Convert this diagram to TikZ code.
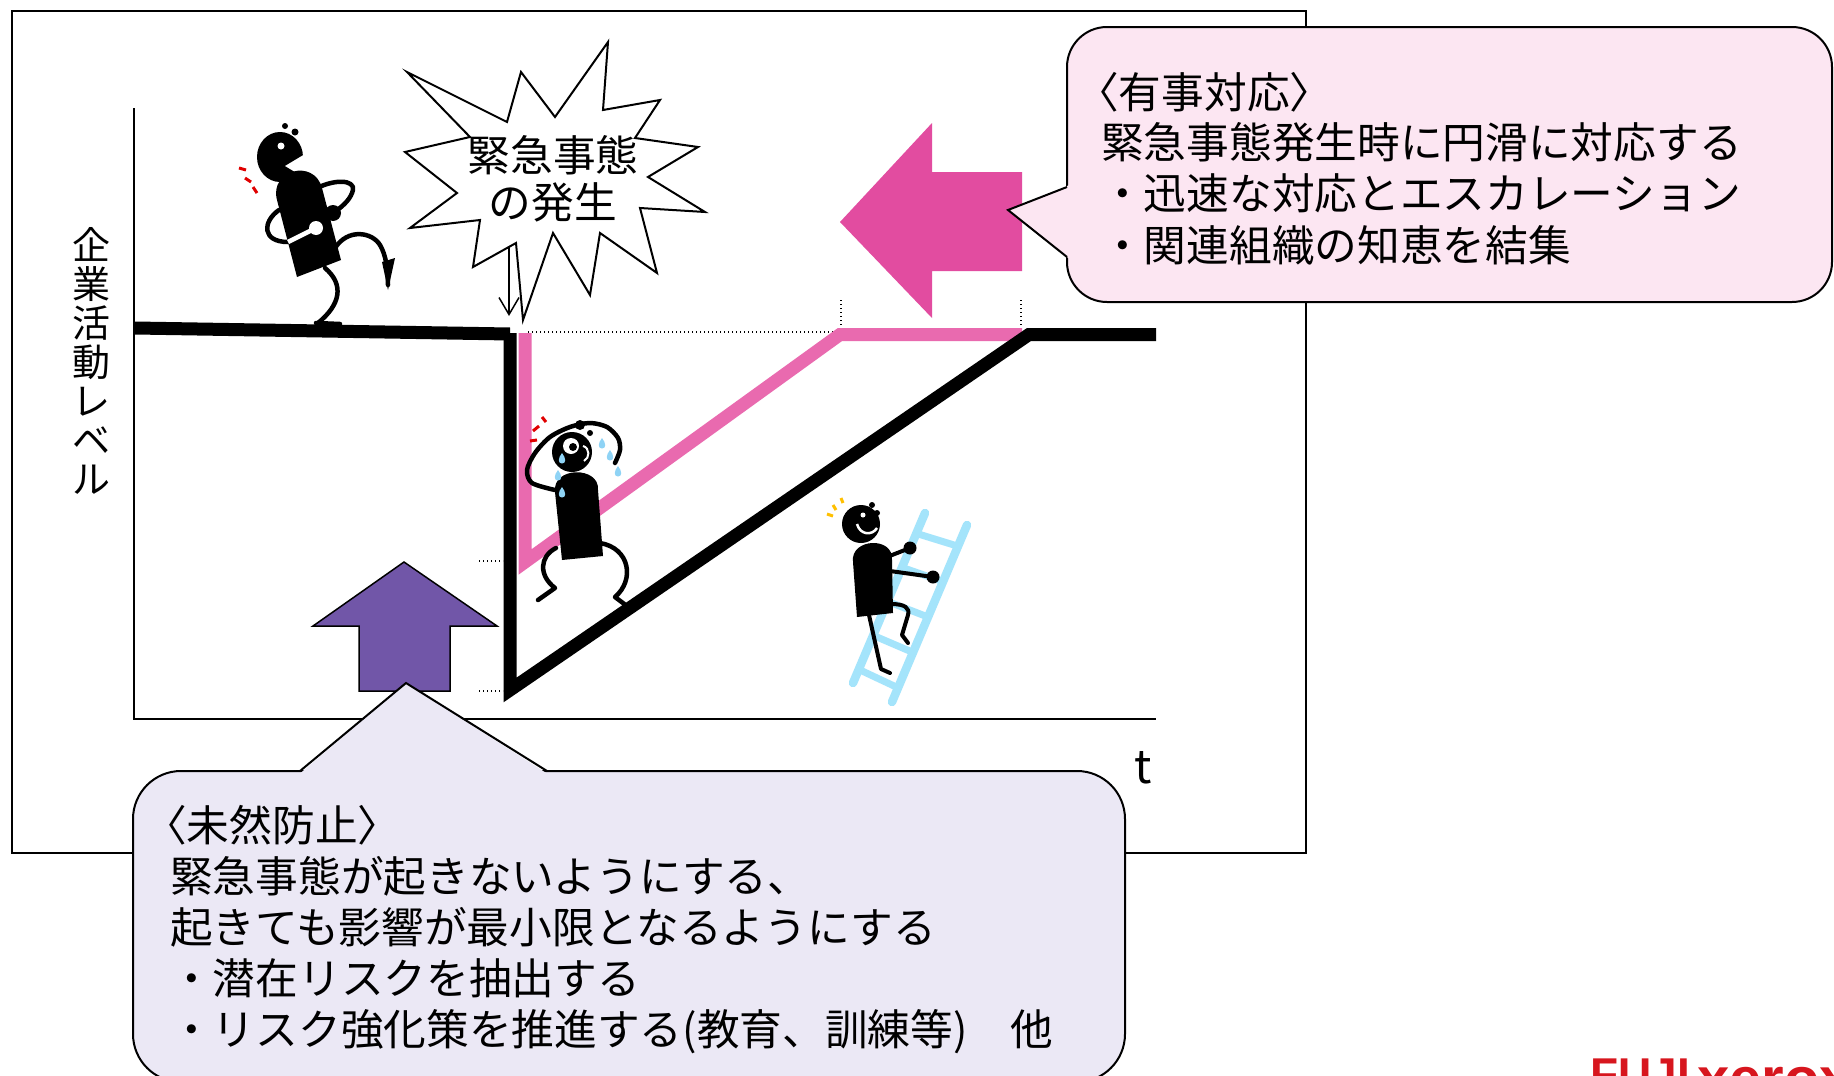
\documentclass[tikz,border=0pt]{standalone}
\usepackage{fontspec}
\setmainfont{Noto Sans CJK JP}
\newfontfamily\logofont{Liberation Sans}
\usetikzlibrary{arrows.meta,calc}

\definecolor{respink}{HTML}{E24CA0}
\definecolor{recovpink}{HTML}{E96AAF}
\definecolor{prevpurple}{HTML}{7156A8}
\definecolor{calloutpink}{HTML}{FCE6F2}
\definecolor{calloutlav}{HTML}{EBE8F5}
\definecolor{ladderblue}{HTML}{A4E4FB}
\definecolor{tearblue}{HTML}{8FD3F5}
\definecolor{alarmred}{HTML}{E00000}
\definecolor{alarmyellow}{HTML}{FFC000}
\definecolor{logored}{HTML}{D7161E}

\tikzset{
  bigtext/.style={font=\fontsize{42.7}{51}\selectfont, inner sep=0pt, anchor=base west},
  levelline/.style={line width=13pt, black},
  recoveryline/.style={line width=13pt, recovpink, line join=miter},
  guide/.style={line width=1.4pt, dash pattern=on 1.4pt off 2.6pt},
  limb/.style={line width=4.5pt, line cap=round, line join=round},
  thinlimb/.style={line width=4pt, line cap=round, line join=round},
  alarm/.style={draw=#1, line width=3pt},
  rail/.style={ladderblue, line width=8.5pt, line cap=round},
  rung/.style={ladderblue, line width=7pt},
  balloon/.style={line width=2pt},
  logotext/.style={anchor=base west, inner sep=0pt, text=logored, font=\logofont\bfseries\fontsize{46}{46}\selectfont},
}

% a small tear drop centred near (#1,#2)
\newcommand\teardrop[2]{%
  \fill[tearblue] (#1,#2-7) .. controls (#1+4,#2-2) and (#1+4.5,#2+3.5) .. (#1,#2+3.5)
    .. controls (#1-4.5,#2+3.5) and (#1-4,#2-2) .. (#1,#2-7);}

\begin{document}
\begin{tikzpicture}[x=1pt,y=-1pt]
\useasboundingbox (0,0) rectangle (1834,1076);
\clip (0,0) rectangle (1834,1076);
\fill[white] (0,0) rectangle (1834,1076);

% outer frame
\draw[line width=1.8pt] (12,11) rectangle (1306,853);

% axes
\draw[line width=2.6pt] (134,108) -- (134,719) -- (1156,719);
\node[font=\fontsize{38}{39}\selectfont, align=center, inner sep=0pt] (levellabel) at (91,361) {企\\業\\活\\動\\レ\\ベ\\ル};
\node[font=\fontsize{46}{46}\selectfont, inner sep=0pt] (timelabel) at (1143,768) {t};

% guide lines
\draw[guide] (528,332) -- (839,332);
\draw[guide] (841,300) -- (841,330);
\draw[guide] (1021,300) -- (1021,330);
\draw[guide] (479,561) -- (503,561);
\draw[guide] (479,691) -- (503,691);

% activity level with and without preparation
\draw[recoveryline] (525,333) -- (525,562) -- (840,334.5) -- (1022,334.5);
\draw[levelline] (135,328) -- (510,334);
\draw[levelline, line join=miter] (510,333) -- (510,690) -- (1029,334.5) -- (1156,334.5);

% running figure
\fill (280,157) circle[x radius=23pt, y radius=25pt];
\fill[white] (285,166) -- (305,154) -- (305,178) -- cycle;
\fill[white] (281,146) circle[radius=3.5pt];
\fill (285,126) circle[radius=3pt];
\fill (295,132) circle[radius=3.5pt];
\draw[alarm=alarmred] (239,168)--(246,170) (245,178)--(251,182) (253,187)--(257,193);
\fill (297,277) -- (277,200) .. controls (269,170) and (314,158) .. (322,188) -- (341,260) -- cycle;
\draw[limb] (313,190) .. controls (335,178) and (355,180) .. (353,190) .. controls (351,198) and (345,205) .. (333,213);
\fill (333,213) circle[radius=8pt];
\draw[limb] (279,210) .. controls (262,222) and (262,242) .. (288,242);
\draw[limb, white, line cap=butt] (288,242) -- (316,228);
\fill[white] (316,228) circle[radius=7pt];
\draw[limb] (325,268) .. controls (345,285) and (340,305) .. (318,323);
\draw[limb] (316,323) -- (340,324);
\draw[limb] (335,248) .. controls (348,228) and (372,232) .. (380,245) .. controls (386,255) and (388,270) .. (388,285);
\fill (382,262) -- (395,258) -- (388,290) -- cycle;

% distressed figure
\fill (572,452) circle[radius=20pt];
\fill[white] (571,446) circle[radius=8pt];
\fill (573,447) circle[radius=4pt];
\draw[white, line width=2pt] (583,446) .. controls (590,448) and (590,458) .. (584,461);
\fill (580,425) circle[radius=5pt];
\fill (590,433) circle[radius=3pt];
\draw[limb] plot[smooth] coordinates {(555,490) (532,483) (527,470) (535,453) (550,437) (570,427) (590,423) (607,427) (618,438) (620,450) (615,463)};
\draw[alarm=alarmred] (530,441)--(537,440) (533,431)--(539,426) (542,417)--(546,422);
\fill (562,560) -- (555,492) .. controls (552,466) and (600,466) .. (598,490) -- (603,556) -- cycle;
\teardrop{562}{460}
\teardrop{558}{477}
\teardrop{562}{494}
\teardrop{602}{445}
\teardrop{610}{457}
\teardrop{618}{473}
\draw[limb] (556,548) .. controls (540,556) and (538,575) .. (555,588) -- (538,600);
\draw[limb] (600,543) .. controls (630,548) and (635,580) .. (615,597) -- (627,606);

% ladder
\coordinate (railAlow) at (853,683);
\coordinate (railAtop) at (925,513);
\coordinate (railBlow) at (892,702);
\coordinate (railBtop) at (967,525);
\draw[rail] (railAlow) -- (railAtop);
\draw[rail] (railBlow) -- (railBtop);
\foreach \t in {0.08,0.28,0.48,0.68,0.88}
  \draw[rung] ($(railAlow)!\t!(railAtop)$) -- ($(railBlow)!\t!(railBtop)$);

% climbing figure
\fill (861,524) circle[radius=19pt];
\draw[white, line width=2.5pt] (857,524) .. controls (860,535) and (872,536) .. (877,528);
\fill[white] (863,515) circle[radius=2.5pt];
\fill (872,505) circle[radius=3pt];
\fill (877,513) circle[radius=3pt];
\draw[alarm=alarmyellow] (827,514)--(833,516) (833,505)--(836,510) (841,498)--(843,503);
\fill (857,617) -- (853,562) .. controls (850,538) and (894,536) .. (892,560) -- (893,613) -- cycle;
\draw[thinlimb] (887,557) -- (910,548);
\fill (910,548) circle[radius=6.5pt];
\draw[thinlimb] (890,571) -- (933,577);
\fill (933,577) circle[radius=6.5pt];
\draw[thinlimb] (869,615) -- (881,669) -- (890,673);
\draw[thinlimb] (891,604) .. controls (905,604) and (910,608) .. (908,615) -- (902,635) -- (908,643);

% block arrows
\fill[respink] (840,222) -- (932,123) -- (932,172) -- (1022,172) -- (1022,271) -- (932,271) -- (932,318) -- cycle;
\filldraw[fill=prevpurple, line width=1.5pt] (404,562) -- (497,626) -- (450,626) -- (450,691) -- (359,691) -- (359,626) -- (313,626) -- cycle;

% burst
\filldraw[fill=white, line width=2pt, line join=miter]
  (407,72) -- (507,122) -- (521,72) -- (555,117) -- (608,42) -- (603,110) -- (660,100)
  -- (635,138) -- (698,147) -- (648,177) -- (705,212) -- (640,208) -- (657,273)
  -- (600,233) -- (590,295) -- (553,233) -- (523,320) -- (516,243) -- (473,267)
  -- (480,220) -- (410,228) -- (457,193) -- (405,152) -- (470,137) -- cycle;
\node[font=\fontsize{42.7}{47}\selectfont, align=center, inner sep=0pt] (burstlabel) at (553,179) {緊急事態\\の発生};
\coordinate (burstfoot) at (509,246);
\coordinate (dropcorner) at (509,316);
\draw[line width=1.5pt, -{Straight Barb[length=17pt,width=20pt,line width=1.5pt]}] (burstfoot) -- (dropcorner);

% response callout
\filldraw[balloon, fill=calloutpink, rounded corners=40pt] (1067,27) rectangle (1832,302);
\fill[calloutpink] (1069.5,185) -- (1008,210) -- (1069.5,259) -- cycle;
\draw[balloon] (1067,187) -- (1008,210) -- (1067,257);
\node[bigtext] (resphead) at (1076,108) {〈有事対応〉};
\node[bigtext] (respline) at (1101,158) {緊急事態発生時に円滑に対応する};
\node[bigtext] (respitemA) at (1101,209) {・迅速な対応とエスカレーション};
\node[bigtext] (respitemB) at (1101,261) {・関連組織の知恵を結集};

% prevention callout
\filldraw[balloon, fill=calloutlav, rounded corners=48pt] (133,771) rectangle (1125,1082);
\fill[calloutlav] (300,773.5) -- (406,683) -- (547,773.5) -- cycle;
\draw[balloon] (300,771) -- (406,683) -- (547,771);
\node[bigtext] (prevhead) at (144,841) {〈未然防止〉};
\node[bigtext] (prevlineA) at (170,892) {緊急事態が起きないようにする、};
\node[bigtext] (prevlineB) at (170,943) {起きても影響が最小限となるようにする};
\node[bigtext] (previtemA) at (170,994) {・潜在リスクを抽出する};
\node[bigtext] (previtemB) at (170,1045) {・リスク強化策を推進する(教育、訓練等)　他};

% company mark, cut by the lower edge
\node[logotext] (logofuji) at (1590,1090) {FUJI};
\node[logotext, font=\logofont\bfseries\fontsize{58}{58}\selectfont] (logoxerox) at (1697,1098) {xerox};
\end{tikzpicture}
\end{document}
